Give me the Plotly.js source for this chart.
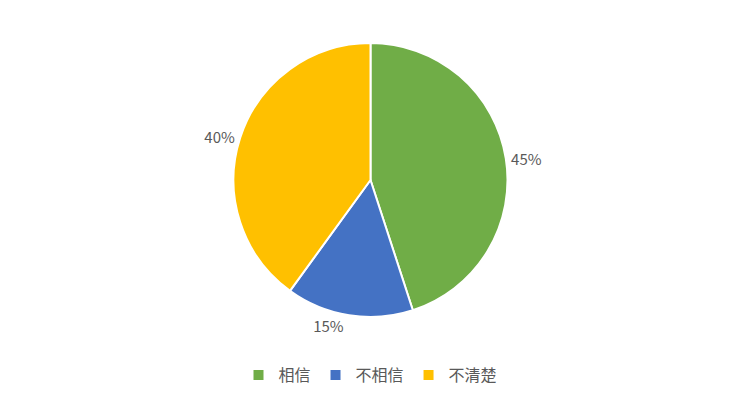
<!DOCTYPE html>
<html>
<head>
<meta charset="utf-8">
<script src="https://cdn.plot.ly/plotly-3.0.1.min.js"></script>
<style>
  html, body { margin: 0; padding: 0; background: #fff; }
  #chart { width: 741px; height: 404px; }
</style>
</head>
<body>
<div id="chart"></div>
<script>
let labels = ["相信", "不相信", "不清楚"]
let values = [45, 15, 40]
let colors = ["#70AD47", "#4472C4", "#FFC000"]

let textColor = "#595959"
let fontFamily = "'Microsoft YaHei', 'Noto Sans CJK SC', 'Noto Sans', sans-serif"

let pieTrace = {
    type: "pie",
    labels: labels,
    values: values,
    sort: false,
    direction: "clockwise",
    rotation: 0,
    marker: { colors: colors, line: { color: "#ffffff", width: 2 } },
    textinfo: "percent",
    texttemplate: "%{percent:.0%}",
    textposition: "outside",
    outsidetextfont: { size: 15, color: textColor, family: fontFamily },
    hoverinfo: "label+percent",
    domain: { x: [0, 1], y: [0, 1] }
}

let layout = {
    width: 741,
    height: 404,
    margin: { l: 0, r: 0, t: 43, b: 87 },
    paper_bgcolor: "#ffffff",
    plot_bgcolor: "#ffffff",
    font: { family: fontFamily, color: textColor, size: 15 },
    showlegend: true,
    legend: {
        orientation: "h",
        x: 0.5,
        xanchor: "center",
        y: -0.15,
        yanchor: "top",
        font: { size: 16, color: textColor },
        itemwidth: 30,
        tracegroupgap: 0
    }
}

Plotly.newPlot("chart", [pieTrace], layout, { displayModeBar: false, staticPlot: true })
</script>
</body>
</html>
